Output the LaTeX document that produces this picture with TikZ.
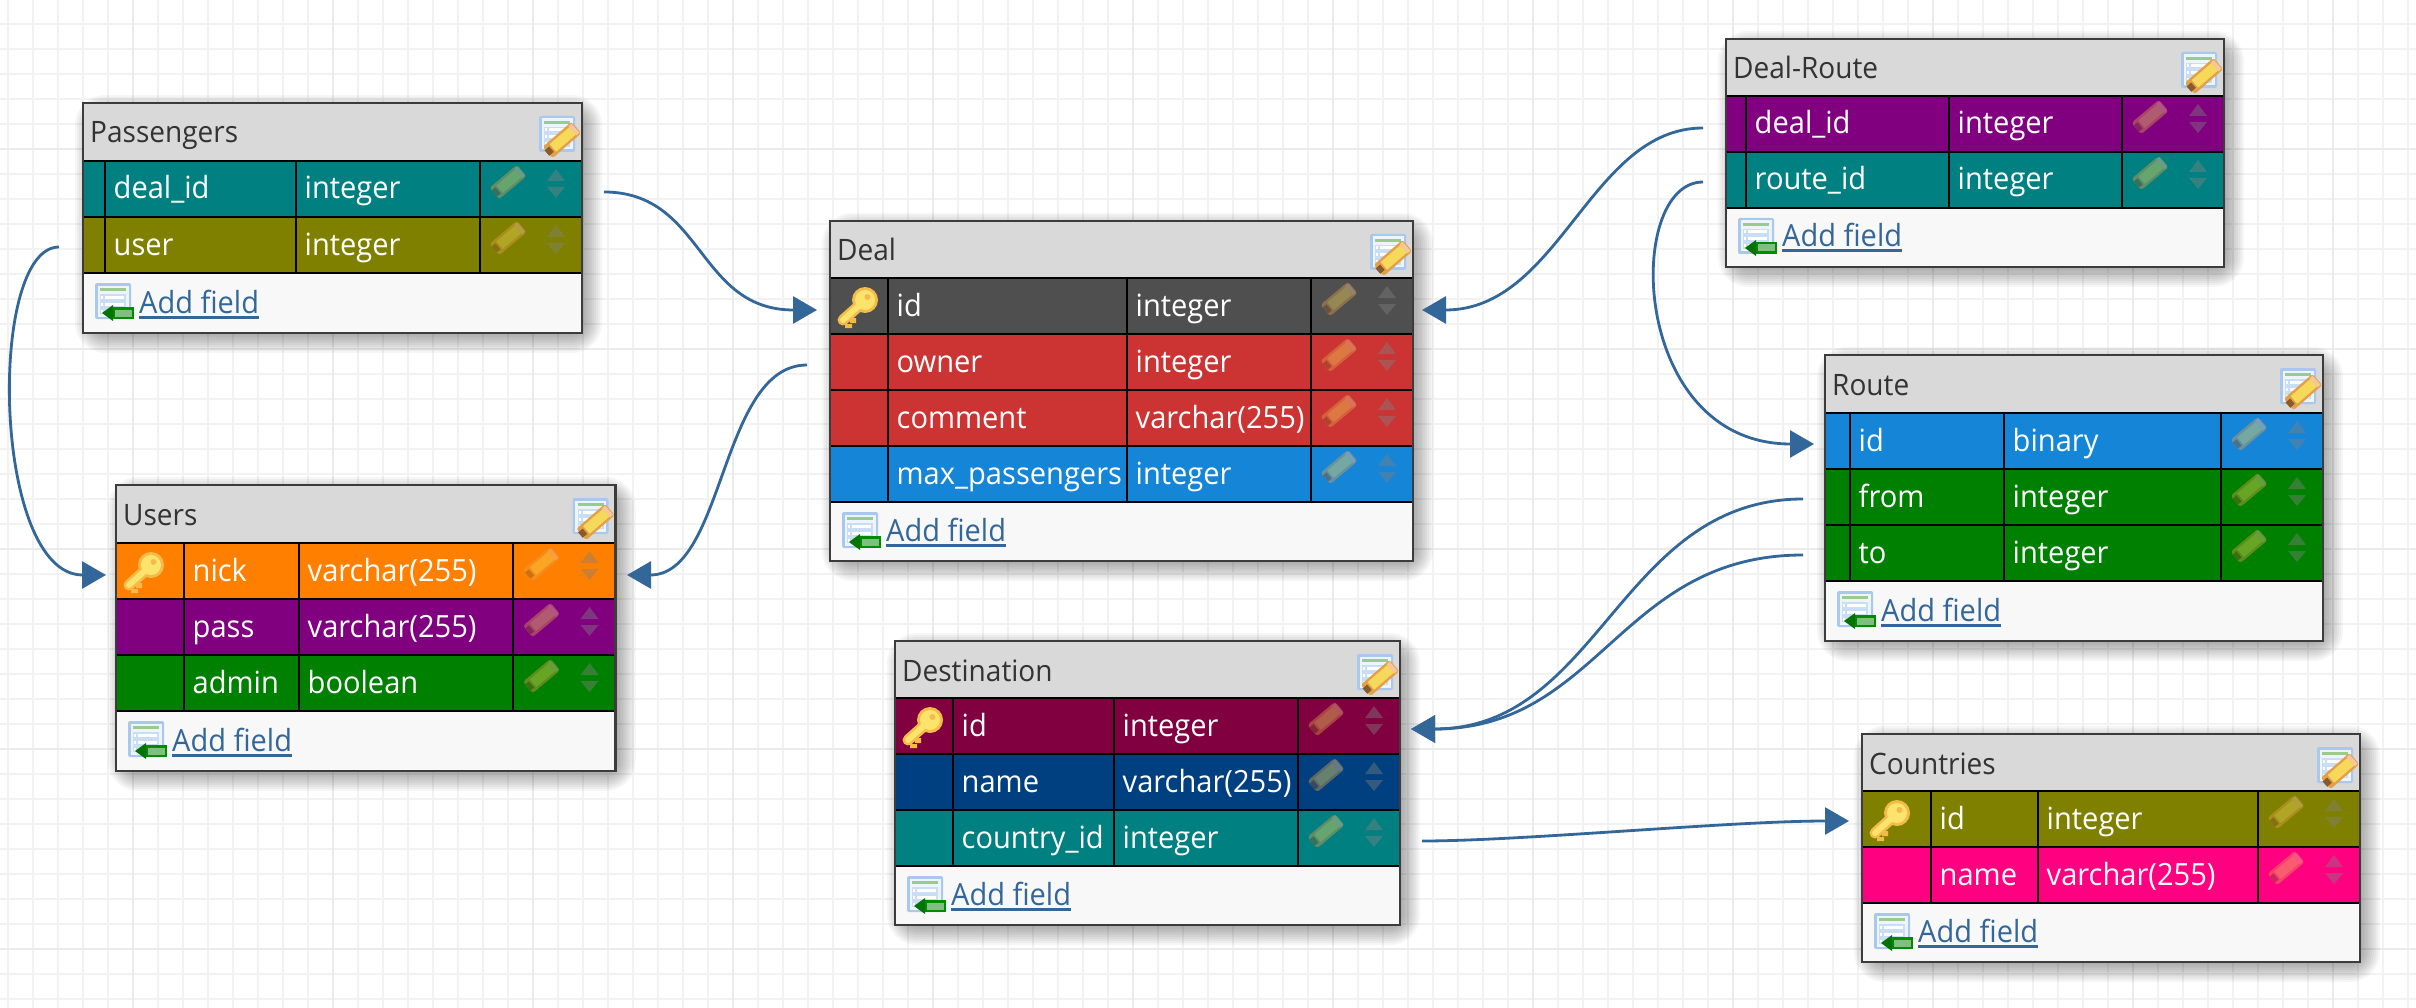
\documentclass[tikz,border=0pt]{standalone}
\usepackage{fontspec}
\setmainfont{Open Sans}[FakeStretch=0.95]
\usetikzlibrary{arrows.meta}
\definecolor{cTeal}{HTML}{008080}
\definecolor{cOlive}{HTML}{808000}
\definecolor{cPurple}{HTML}{800080}
\definecolor{cGrey}{HTML}{4F4F4F}
\definecolor{cRed}{HTML}{CC3333}
\definecolor{cBlue}{HTML}{1585D8}
\definecolor{cOrange}{HTML}{FF8000}
\definecolor{cGreen}{HTML}{008000}
\definecolor{cMaroon}{HTML}{800040}
\definecolor{cNavy}{HTML}{004080}
\definecolor{cPink}{HTML}{FF0080}
\definecolor{cLink}{HTML}{336699}
\definecolor{cHead}{HTML}{D9D9D9}
\definecolor{cFoot}{HTML}{F8F8F8}
\definecolor{cBorder}{HTML}{3C3C3C}
\definecolor{cKeyIn}{HTML}{FBE36C}
\definecolor{cKeyOut}{HTML}{F3BC4A}
\definecolor{cPenBody}{HTML}{F6D95A}
\definecolor{cPenEdge}{HTML}{E2A048}
\definecolor{cPenTip}{HTML}{8A5A2A}
\definecolor{cPenCap}{HTML}{F6C79E}
\definecolor{cSheetEdge}{HTML}{A9C8EE}
\definecolor{cSheetBg}{HTML}{EEF4FC}
\definecolor{cSheetCell}{HTML}{C9DDF5}
\definecolor{cSheetBar}{HTML}{9ACB8C}
\tikzset{
  cellsep/.style={black,line width=2.8pt},
  tblborder/.style={draw=cBorder,line width=2.6pt},
  celltext/.style={anchor=base west,inner sep=0pt,text=white,font=\fontsize{30.6}{33}\selectfont},
  titletext/.style={anchor=base west,inner sep=0pt,text=black!80,font=\fontsize{29.5}{32}\selectfont},
  linktext/.style={anchor=base west,inner sep=0pt,text=cLink,font=\fontsize{30.5}{33}\selectfont},
  relation/.style={draw=cLink,line width=2.8pt,-{Triangle[length=24pt,width=27pt]}},
  gridminor/.style={draw=black!5,line width=2.2pt},
  gridmajor/.style={draw=black!8,line width=2.4pt},
}
% small faded pencil in a row
\newcommand\rowpencil[2]{%
  \begin{scope}[shift={(#1,#2)},rotate=40,opacity=.42,transparency group]
    \fill[rounded corners=3pt,cPenEdge] (-18,-7.5) rectangle (18,7.5);
    \fill[cPenBody] (-11,-5) rectangle (13,5);
    \fill[cPenCap] (13,-6) rectangle (17,6);
    \fill[cPenTip] (-18,-4) rectangle (-13,4);
  \end{scope}}
% faded sort arrows
\newcommand\rowsort[2]{%
  \fill[gray,opacity=.42] (#1-9,#2+20) -- (#1+9,#2+20) -- (#1,#2+8) -- cycle;
  \fill[gray,opacity=.42] (#1-9,#2+26) -- (#1+9,#2+26) -- (#1,#2+37) -- cycle;}
% table sheet, common to the two icons; origin = centre
\newcommand\sheet{%
  \fill[rounded corners=2pt,cSheetEdge] (-18,-18) rectangle (18,18);
  \fill[cSheetBg] (-15.5,-15.5) rectangle (15.5,15.5);
  \fill[cSheetBar] (-13,-13) rectangle (13,-10);
  \fill[cSheetCell] (-13,-7) rectangle (13,13);
  \foreach \yy in {-4,3,10}{\fill[white] (-8,\yy-1.5) rectangle (11,\yy+1.5);\fill[white] (-12,\yy-1.5) rectangle (-10,\yy+1.5);}}
\newcommand\editicon[2]{%
  \begin{scope}[shift={(#1,#2)}]
    \sheet
    \begin{scope}[shift={(5,6)},rotate=41]
      \fill[rounded corners=2.5pt,cPenEdge] (-19,-7.5) rectangle (19,7.5);
      \fill[cPenBody] (-12,-5) rectangle (14,5);
      \fill[cPenCap] (14,-6) rectangle (18,6);
      \fill[cPenTip] (-20,-3.5) rectangle (-14,3.5);
    \end{scope}
  \end{scope}}
\newcommand\addicon[2]{%
  \begin{scope}[shift={(#1,#2)}]
    \sheet
    \fill[green!55!black] (0,6) rectangle (21,18);
    \fill[green!50!black!50!white] (2,8.5) rectangle (19,15.5);
    \fill[green!45!black] (-11,12) -- (0,4) -- (0,20) -- cycle;
  \end{scope}}
\newcommand\keyicon[2]{%
  \begin{scope}[shift={(#1,#2)}]
    \draw[cKeyOut,line width=11pt,line cap=round] (3,-2) -- (-15,14);
    \fill[cKeyOut] (-13,18) rectangle (-6,22) (-8,12) rectangle (-2,17);
    \fill[cKeyOut] (7,-6) circle (13);
    \draw[cKeyIn,line width=6pt,line cap=round] (3,-2) -- (-15,14);
    \fill[cKeyIn] (7,-6) circle (10);
    \fill[cKeyOut] (9.5,-9) circle (3);
  \end{scope}}
% table: prefix, title, L, R, T, header line, three column lines
\newcommand\dbtable[9]{%
  \def\pre{#1}\def\ttl{#2}\def\tL{#3}\def\tR{#4}\def\tT{#5}\def\tH{#6}\def\cA{#7}\def\cB{#8}\def\cC{#9}\dbrows}
% rows: count, footer height, list colour/name/type/key
\newcommand\dbrows[3]{%
  \pgfmathsetmacro\tF{\tH+56*#1}
  \pgfmathsetmacro\tB{\tF+#2}
  \foreach \rr in {-14,-12,...,14}{
    \pgfmathsetmacro\rc{max(\rr+16,1)}
    \fill[black,opacity=.035,rounded corners=\rc pt] (\tL-\rr+6,\tT-\rr+6) rectangle (\tR+\rr+6,\tB+\rr+6);}
  \fill[cHead] (\tL,\tT) rectangle (\tR,\tH);
  \fill[cFoot] (\tL,\tF) rectangle (\tR,\tB);
  \foreach \rcol/\rnm/\rty/\rky [count=\ii] in {#3}{
    \pgfmathsetmacro\rt{\tH+56*(\ii-1)}
    \fill[\rcol] (\tL,\rt) rectangle (\tR,\rt+56);
  }
  \foreach \rcol/\rnm/\rty/\rky [count=\ii] in {#3}{
    \pgfmathsetmacro\rt{\tH+56*(\ii-1)}
    \pgfmathsetmacro\rb{\rt+56}
    \draw[cellsep] (\tL,\rb) -- (\tR,\rb);
    \draw[cellsep] (\cA,\rt) -- (\cA,\rb) (\cB,\rt) -- (\cB,\rb) (\cC,\rt) -- (\cC,\rb);
    \node[celltext] (\pre-\ii-name) at (\cA+8.5,\rt+38) {\rnm};
    \node[celltext] (\pre-\ii-type) at (\cB+8.5,\rt+38) {\rty};
    \rowpencil{\tR-74}{\rt+21}
    \rowsort{\tR-26}{\rt}
    \ifnum\rky=1 \keyicon{\tL+28}{\rt+28}\fi
  }
  \draw[cellsep] (\tL,\tH) -- (\tR,\tH);
  \node[titletext] (\pre-title) at (\tL+7,\tT+40) {\ttl};
  \editicon{\tR-25}{\tT+31}
  \addicon{\tL+30}{\tF+28}
  \node[linktext] (\pre-add) at (\tL+56,\tB-20) {Add field};
  \draw[cLink,line width=3pt] ([yshift=-4pt]\pre-add.base west) -- ([yshift=-4pt]\pre-add.base east);
  \draw[tblborder] (\tL,\tT) rectangle (\tR,\tB);
}
\begin{document}
\begin{tikzpicture}[x=1pt,y=-1pt]
\useasboundingbox (0,0) rectangle (2416,1008);
\fill[white] (0,0) rectangle (2416,1008);
\foreach \k in {0,...,96}{\draw[gridminor] (8+25*\k,0) -- (8+25*\k,1008);}
\foreach \k in {0,...,40}{\draw[gridminor] (0,24+25*\k) -- (2416,24+25*\k);}
\foreach \k in {0,...,11}{\draw[gridmajor] (133+200*\k,0) -- (133+200*\k,1008);}
\foreach \k in {0,...,4}{\draw[gridmajor] (0,149+200*\k) -- (2416,149+200*\k);}

\dbtable{P}{Passengers}{83}{582}{103}{161}{105}{296}{480}{2}{60}{cTeal/deal\_id/integer/0,cOlive/user/integer/0}
\dbtable{U}{Users}{116}{615.5}{485}{543}{184}{299}{513}{3}{60}{cOrange/nick/varchar(255)/1,cPurple/pass/varchar(255)/0,cGreen/admin/boolean/0}
\dbtable{D}{Deal}{830}{1413}{221}{278}{888}{1127}{1311}{4}{59}{cGrey/id/integer/1,cRed/owner/integer/0,cRed/comment/varchar(255)/0,cBlue/max\_passengers/integer/0}
\dbtable{R}{Deal-Route}{1726}{2224}{39}{96}{1746}{1949}{2122}{2}{59}{cPurple/deal\_id/integer/0,cTeal/route\_id/integer/0}
\dbtable{O}{Route}{1825}{2323}{355}{413}{1850}{2004}{2221}{3}{60}{cBlue/id/binary/0,cGreen/from/integer/0,cGreen/to/integer/0}
\dbtable{T}{Destination}{895}{1400}{641}{698}{953}{1114}{1298}{3}{59}{cMaroon/id/integer/1,cNavy/name/varchar(255)/0,cTeal/country\_id/integer/0}
\dbtable{C}{Countries}{1862}{2360}{734}{791}{1931}{2038}{2258}{2}{59}{cOlive/id/integer/1,cPink/name/varchar(255)/0}

\coordinate (pDealOut) at (604,192);
\coordinate (dIdInL) at (817,310);
\coordinate (pUserOut) at (59,247);
\coordinate (uNickInL) at (106,575);
\coordinate (dOwnerOut) at (807,365);
\coordinate (uNickInR) at (627,575);
\coordinate (rDealOut) at (1703,128);
\coordinate (dIdInR) at (1422,310);
\coordinate (rRouteOut) at (1703,182);
\coordinate (oIdIn) at (1814,444);
\coordinate (oFromOut) at (1803,499);
\coordinate (oToOut) at (1803,555);
\coordinate (tIdIn) at (1411,729);
\coordinate (tCountryOut) at (1422,841);
\coordinate (cIdIn) at (1849,821);

\draw[relation] (pDealOut) .. controls +(100,0) and +(-120,0) .. (dIdInL);
\draw[relation] (pUserOut) .. controls +(-72,0) and +(-114,0) .. (uNickInL);
\draw[relation] (dOwnerOut) .. controls +(-87,0) and +(98,0) .. (uNickInR);
\draw[relation] (rDealOut) .. controls +(-113,0) and +(138,0) .. (dIdInR);
\draw[relation] (rRouteOut) .. controls +(-79,0) and +(-185,0) .. (oIdIn);
\draw[relation] (oFromOut) .. controls +(-183,0) and +(189,0) .. (tIdIn);
\draw[relation] (oToOut) .. controls +(-183,0) and +(189,0) .. (tIdIn);
\draw[relation] (tCountryOut) .. controls +(100,0) and +(-120,0) .. (cIdIn);
\end{tikzpicture}
\end{document}
